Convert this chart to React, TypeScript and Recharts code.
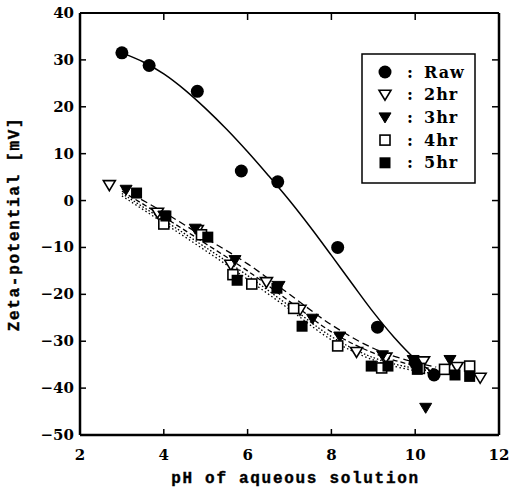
import React from 'react';
import { ComposedChart, Scatter, Line, XAxis, YAxis, Legend } from 'recharts';

// ---- measured points ----
const rawPH = [3.0, 3.65, 4.8, 5.85, 6.72, 8.15, 9.1, 10.0, 10.45];
const rawZeta = [31.5, 28.8, 23.3, 6.3, 4.0, -10.0, -27.0, -34.5, -37.2];

const hr2PH = [2.7, 3.85, 4.8, 5.6, 6.45, 7.25, 8.6, 9.3, 10.2, 11.0, 11.55];
const hr2Zeta = [3.3, -2.6, -6.3, -13.7, -17.4, -23.3, -32.3, -33.5, -34.3, -35.5, -37.8];

const hr3PH = [3.1, 4.0, 4.75, 5.7, 6.75, 7.55, 8.2, 9.22, 9.95, 10.25, 10.83];
const hr3Zeta = [2.3, -3.2, -6.0, -12.7, -18.2, -25.2, -29.0, -33.0, -34.0, -44.2, -34.0];

const hr4PH = [4.0, 4.9, 5.65, 6.1, 7.1, 8.15, 9.2, 10.1, 10.7, 11.3];
const hr4Zeta = [-5.0, -7.3, -15.8, -17.8, -23.0, -31.0, -35.7, -35.8, -36.0, -35.3];

const hr5PH = [3.35, 4.05, 5.05, 5.75, 6.7, 7.3, 8.95, 9.35, 10.05, 10.95, 11.3];
const hr5Zeta = [1.6, -3.3, -7.8, -17.0, -18.7, -26.8, -35.3, -35.3, -36.0, -37.2, -37.5];

// ---- fitted curves ----
const rawFitPH = [3, 3.5, 4, 4.5, 5, 5.5, 6, 6.5, 7, 7.5, 8, 8.5, 9, 9.5, 10, 10.5];
const rawFitZeta = [31.5, 29.6, 27.0, 23.6, 19.6, 15.2, 10.4, 5.3, 0, -5.7, -11.7, -17.8, -23.8, -29.2, -33.8, -37.2];

const fitPH = [3, 4, 5, 6, 7, 8, 9, 10, 10.5];
const hr2FitZeta = [2.0, -3.5, -9.2, -15, -21.5, -28, -32.5, -35.2, -36];
const hr3FitZeta = [2.5, -2.5, -8, -13.5, -20, -26.5, -31.5, -34.5, -35.5];
const hr4FitZeta = [1.5, -4.2, -10, -16, -22.5, -29, -33.5, -35.8, -36.5];
const hr5FitZeta = [1.0, -4.8, -10.7, -16.8, -23.2, -29.7, -34, -36.3, -37];

// ---- axes ----
const xTicks = [2, 4, 6, 8, 10, 12];
const xTopTicks = [4, 6, 8, 10];
const yTicks = [-50, -40, -30, -20, -10, 0, 10, 20, 30, 40];
const yRightTicks = [-40, -30, -20, -10, 0, 10, 20, 30];
const xDomain = [2, 12];
const yDomain = [-50, 40];

const legendNames = ['Raw', '2hr', '3hr', '4hr', '5hr'];

const zip = (xs: number[], ys: number[]) => xs.map((x, i) => ({ x, y: ys[i] }));

const TICK_FONT = '"DejaVu Serif", serif';
const TITLE_FONT = '"Liberation Mono", monospace';

const Marker = ({ kind, cx, cy }: { kind: string; cx: number; cy: number }) => {
  if (kind === 'Raw') return <circle cx={cx} cy={cy} r={6.5} fill="#000" />;
  if (kind === '2hr')
    return <polygon points={`${cx - 6},${cy - 4.5} ${cx + 6},${cy - 4.5} ${cx},${cy + 5.5}`} fill="#fff" stroke="#000" strokeWidth={1.6} />;
  if (kind === '3hr')
    return <polygon points={`${cx - 6},${cy - 4.5} ${cx + 6},${cy - 4.5} ${cx},${cy + 5.5}`} fill="#000" stroke="#000" strokeWidth={1} />;
  if (kind === '4hr')
    return <rect x={cx - 5} y={cy - 5} width={10} height={10} fill="#fff" stroke="#000" strokeWidth={1.6} />;
  return <rect x={cx - 5.5} y={cy - 5.5} width={11} height={11} fill="#000" />;
};

const shapeFor = (kind: string) => (p: any) => <Marker kind={kind} cx={p.cx} cy={p.cy} />;

const fmt = (v: number) => (v < 0 ? `\u2212${Math.abs(v)}` : `${v}`);

const BottomTick = (p: any) => (
  <g>
    <line x1={p.x} x2={p.x} y1={p.y} y2={p.y - 6} stroke="#000" strokeWidth={1.5} />
    <text x={p.x} y={p.y + 25} textAnchor="middle" fontFamily={TICK_FONT} fontWeight="bold" fontSize={15} fill="#000">
      {p.payload.value}
    </text>
  </g>
);
const LeftTick = (p: any) => (
  <g>
    <line x1={p.x} x2={p.x + 6} y1={p.y} y2={p.y} stroke="#000" strokeWidth={1.5} />
    <text x={p.x - 6} y={p.y + 5} textAnchor="end" fontFamily={TICK_FONT} fontWeight="bold" fontSize={15} fill="#000">
      {fmt(p.payload.value)}
    </text>
  </g>
);
const TopTick = (p: any) => <line x1={p.x} x2={p.x} y1={p.y} y2={p.y + 7} stroke="#000" strokeWidth={1.5} />;
const RightTick = (p: any) => <line x1={p.x} x2={p.x - 7} y1={p.y} y2={p.y} stroke="#000" strokeWidth={1.5} />;

const XTitle = (p: any) => {
  const vb = p.viewBox;
  return (
    <text x={vb.x + vb.width / 2 + 6} y={483} textAnchor="middle" fontFamily={TITLE_FONT} fontWeight="bold" fontSize={16}
      letterSpacing={1.7} fill="#000" stroke="#000" strokeWidth={0.4}>
      pH of aqueous solution
    </text>
  );
};
const YTitle = (p: any) => {
  const vb = p.viewBox;
  const cx = 15;
  const cy = vb.y + vb.height / 2;
  return (
    <text x={cx} y={cy} transform={`rotate(-90 ${cx} ${cy})`} textAnchor="middle" dominantBaseline="central"
      fontFamily={TITLE_FONT} fontWeight="bold" fontSize={16} letterSpacing={1.7} fill="#000" stroke="#000" strokeWidth={0.4}>
      Zeta-potential [mV]
    </text>
  );
};

const LegendBox = () => (
  <svg width={116} height={132} style={{ display: 'block' }}>
    <rect x={1} y={1} width={113} height={129} fill="#fff" stroke="#000" strokeWidth={1.5} />
    {legendNames.map((n, i) => {
      const cy = 19 + i * 22.7;
      return (
        <g key={n}>
          <Marker kind={n} cx={24} cy={cy} />
          <text x={49} y={cy + 5.5} fontFamily={TICK_FONT} fontWeight="bold" fontSize={16} textAnchor="middle" fill="#000">:</text>
          <text x={63} y={cy + 5.5} fontFamily={TICK_FONT} fontWeight="bold" fontSize={16} letterSpacing={1} fill="#000">{n}</text>
        </g>
      );
    })}
  </svg>
);

const Nothing = () => <g />;

export default function App() {
  const series = [
    { name: 'Raw', data: zip(rawPH, rawZeta) },
    { name: '2hr', data: zip(hr2PH, hr2Zeta) },
    { name: '3hr', data: zip(hr3PH, hr3Zeta) },
    { name: '4hr', data: zip(hr4PH, hr4Zeta) },
    { name: '5hr', data: zip(hr5PH, hr5Zeta) },
  ];
  const fits = [
    { key: 'fit2', data: zip(fitPH, hr2FitZeta), dash: '5 3' },
    { key: 'fit3', data: zip(fitPH, hr3FitZeta), dash: '7 4' },
    { key: 'fit4', data: zip(fitPH, hr4FitZeta), dash: '1.5 2' },
    { key: 'fit5', data: zip(fitPH, hr5FitZeta), dash: '1.5 2.5' },
  ];
  return (
    <div style={{ position: 'absolute', left: 0, top: 0, background: '#fff' }}>
      <ComposedChart width={509} height={499} margin={{ top: 12, right: 9, bottom: 24, left: 20 }}>
        <XAxis xAxisId="b" dataKey="x" type="number" domain={xDomain} ticks={xTicks} allowDataOverflow interval={0}
          height={40} tickSize={0} tickMargin={0} tick={<BottomTick />} axisLine={{ stroke: '#000', strokeWidth: 2.5 }}
          label={<XTitle />} />
        <XAxis xAxisId="t" dataKey="x" type="number" orientation="top" domain={xDomain} ticks={xTopTicks} allowDataOverflow
          interval={0} height={1} tickSize={0} tickMargin={0} tick={<TopTick />} axisLine={{ stroke: '#000', strokeWidth: 2 }} />
        <YAxis yAxisId="l" dataKey="y" type="number" domain={yDomain} ticks={yTicks} allowDataOverflow interval={0}
          width={60} tickSize={0} tickMargin={0} tick={<LeftTick />} axisLine={{ stroke: '#000', strokeWidth: 2.5 }}
          label={<YTitle />} />
        <YAxis yAxisId="r" dataKey="y" type="number" orientation="right" domain={yDomain} ticks={yRightTicks} allowDataOverflow
          interval={0} width={1} tickSize={0} tickMargin={0} tick={<RightTick />} axisLine={{ stroke: '#000', strokeWidth: 2.5 }} />
        <Scatter xAxisId="t" yAxisId="r" data={zip(rawPH, rawZeta)} dataKey="y" shape={<Nothing />}
          isAnimationActive={false} legendType="none" />
        <Line xAxisId="b" yAxisId="l" data={zip(rawFitPH, rawFitZeta)} dataKey="y" type="monotone" stroke="#000"
          strokeWidth={1.5} dot={false} activeDot={false} isAnimationActive={false} legendType="none" />
        {fits.map((f) => (
          <Line key={f.key} xAxisId="b" yAxisId="l" data={f.data} dataKey="y" type="monotone" stroke="#000"
            strokeWidth={1.3} strokeDasharray={f.dash} dot={false} activeDot={false} isAnimationActive={false} legendType="none" />
        ))}
        {series.map((s) => (
          <Scatter key={s.name} name={s.name} xAxisId="b" yAxisId="l" data={s.data} dataKey="y"
            shape={shapeFor(s.name)} isAnimationActive={false} />
        ))}
        <Legend layout="vertical" align="center" verticalAlign="middle" content={<LegendBox />}
          wrapperStyle={{ position: 'absolute', left: 361, top: 53, width: 116, height: 132 }} />
      </ComposedChart>
    </div>
  );
}
